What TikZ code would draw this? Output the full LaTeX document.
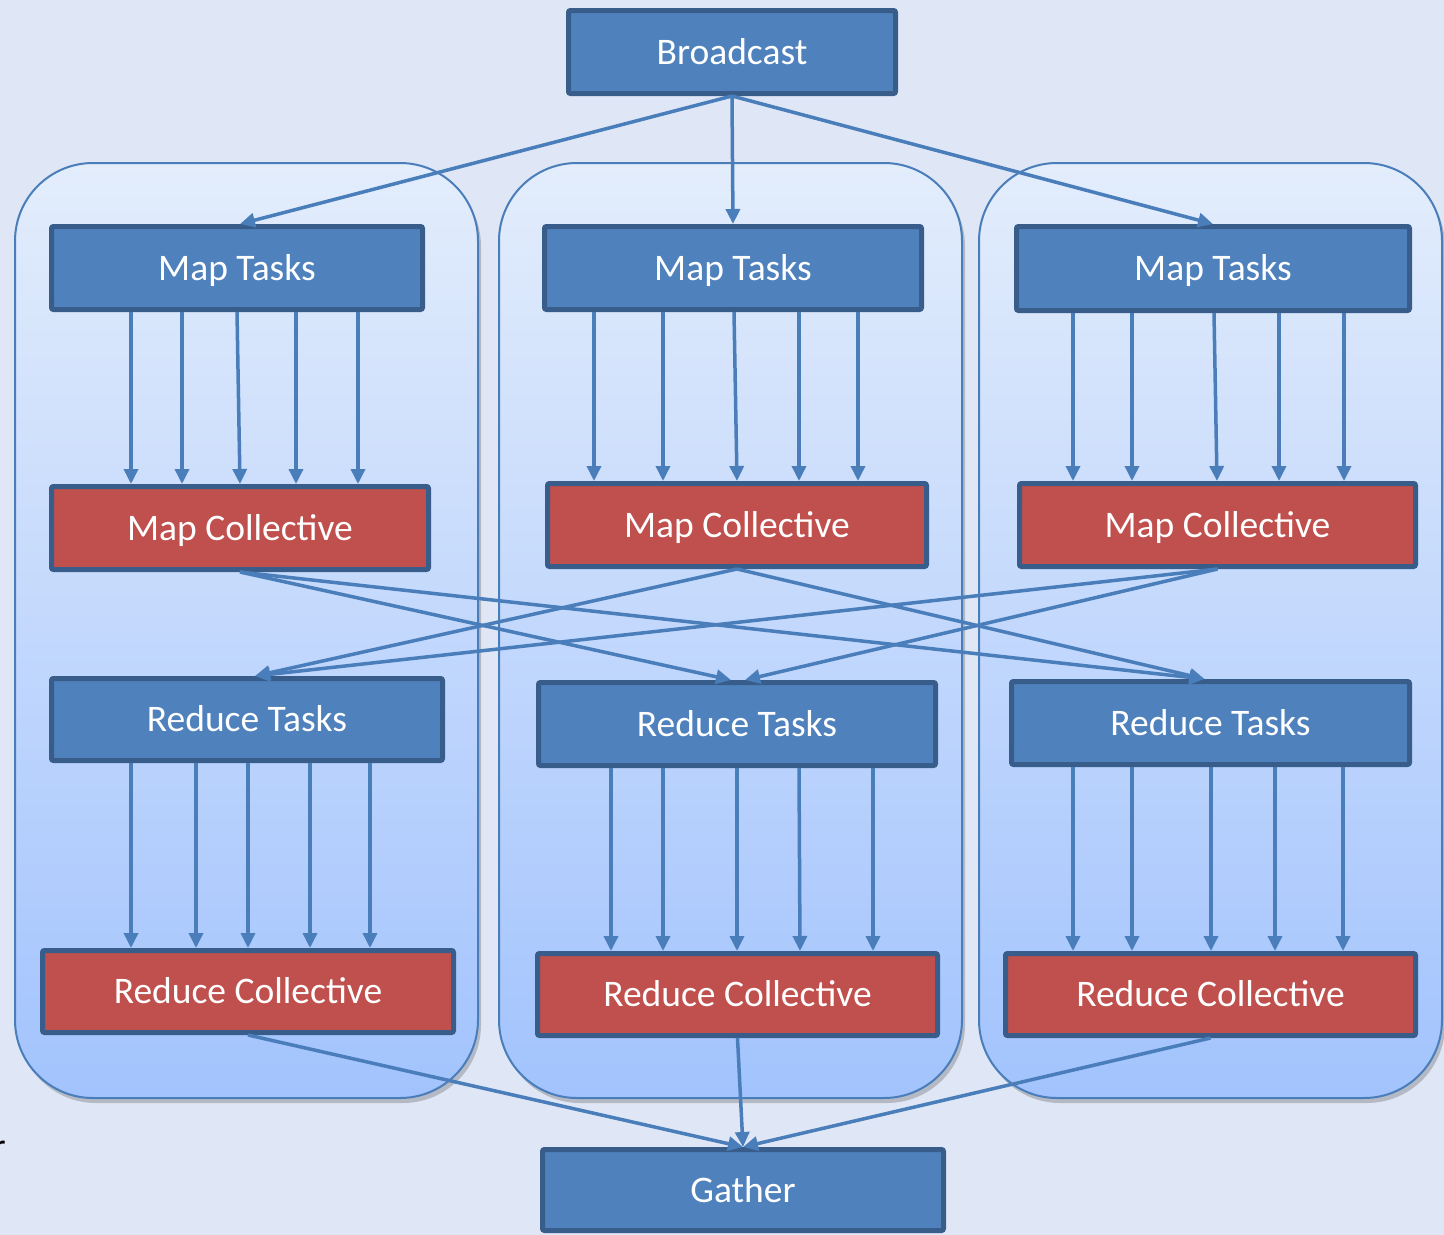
\documentclass[tikz,border=0pt]{standalone}
\usepackage{fontspec}
\setmainfont{Carlito}
\usetikzlibrary{arrows.meta,shadows,calc}

\definecolor{bgcol}{HTML}{DFE7F6}
\definecolor{boxblue}{HTML}{4F81BD}
\definecolor{boxred}{HTML}{C0504D}
\definecolor{edgeblue}{HTML}{385D8A}
\definecolor{linkblue}{HTML}{4A7EBB}
\definecolor{paneltop}{HTML}{E3EDFC}
\definecolor{panelbot}{HTML}{A2C3FD}

\tikzset{
  stage/.style={draw=edgeblue, line width=5pt, rounded corners=2pt,
    text=white, font=\fontsize{37.5}{42}\selectfont, inner sep=0pt,
    text height=25pt, text depth=1pt},
  bluebox/.style={stage, fill=boxblue},
  redbox/.style={stage, fill=boxred},
  panel/.style={draw=linkblue, line width=2pt, rounded corners=78pt,
    top color=paneltop, bottom color=panelbot,
    drop shadow={shadow xshift=3pt, shadow yshift=-5pt, opacity=0.35, fill=black!60}},
  arr/.style={draw=linkblue, line width=3.5pt,
    -{Triangle[length=15pt,width=14pt]}},
}

\begin{document}
\begin{tikzpicture}[x=1pt,y=-1pt]
  \clip (0,0) rectangle (1444,1235);
  \fill[bgcol] (0,0) rectangle (1444,1235);
  \useasboundingbox (0,0) rectangle (1444,1235);

  % three worker groups
  \path[panel] (15,163) rectangle (478,1098);
  \path[panel] (499,163) rectangle (962,1098);
  \path[panel] (979,163) rectangle (1442,1098);

  % stages
  \node[bluebox, minimum width=327pt, minimum height=83pt] (bc) at (732,52) {Broadcast};

  \node[bluebox, minimum width=371pt, minimum height=83pt] (mtL) at (237,268) {Map Tasks};
  \node[bluebox, minimum width=377pt, minimum height=83pt] (mtM) at (733,268) {Map Tasks};
  \node[bluebox, minimum width=393pt, minimum height=84pt] (mtR) at (1213,268.5) {Map Tasks};

  \node[redbox, minimum width=377pt, minimum height=83pt] (mcL) at (240,528) {Map Collective};
  \node[redbox, minimum width=379pt, minimum height=83pt] (mcM) at (737,525) {Map Collective};
  \node[redbox, minimum width=396pt, minimum height=83pt] (mcR) at (1217.5,525) {Map Collective};

  \node[bluebox, minimum width=391pt, minimum height=82pt] (rtL) at (247,719.5) {Reduce Tasks};
  \node[bluebox, minimum width=397pt, minimum height=83pt] (rtM) at (737,724) {Reduce Tasks};
  \node[bluebox, minimum width=398pt, minimum height=83pt] (rtR) at (1210.5,723) {Reduce Tasks};

  \node[redbox, minimum width=411pt, minimum height=82pt] (rcL) at (248,991.5) {Reduce Collective};
  \node[redbox, minimum width=400pt, minimum height=82pt] (rcM) at (737.5,994.5) {Reduce Collective};
  \node[redbox, minimum width=410pt, minimum height=82pt] (rcR) at (1210.5,994.5) {Reduce Collective};

  \node[bluebox, minimum width=401pt, minimum height=81pt] (ga) at (743,1190) {Gather};

  % clipped letter at the left margin
  \node[anchor=base east, inner sep=0pt, text=black,
        font=\fontsize{36}{40}\selectfont] (frag) at (6,1158) {r};

  % broadcast to map tasks
  \draw[arr] (bc.south) -- ($(mtL.north)+(3,0)$);
  \draw[arr] (bc.south) -- (mtM.north);
  \draw[arr] (bc.south) -- (mtR.north);

  % map tasks to map collective
  \foreach \a/\b in {131/131,182/182,237/240,296/296,358/358}{
    \coordinate (p) at (\a,0); \coordinate (q) at (\b,0);
    \draw[arr] (p |- mtL.south) -- (q |- mcL.north);
  }
  \foreach \a/\b in {594/594,663/663,734/737,799/799,858/858}{
    \coordinate (p) at (\a,0); \coordinate (q) at (\b,0);
    \draw[arr] (p |- mtM.south) -- (q |- mcM.north);
  }
  \foreach \a/\b in {1073/1073,1132/1132,1214/1217,1279/1279,1344/1344}{
    \coordinate (p) at (\a,0); \coordinate (q) at (\b,0);
    \draw[arr] (p |- mtR.south) -- (q |- mcR.north);
  }

  % shuffle between map collective and reduce tasks
  \draw[arr] (mcL.south) -- ($(rtM.north)+(-6,0)$);
  \draw[arr] (mcL.south) -- ($(rtR.north)+(-6,0)$);
  \draw[arr] (mcM.south) -- ($(rtL.north)+(8,0)$);
  \draw[arr] (mcM.south) -- ($(rtR.north)+(-6,0)$);
  \draw[arr] (mcR.south) -- ($(rtL.north)+(8,0)$);
  \draw[arr] (mcR.south) -- ($(rtM.north)+(8,0)$);

  % reduce tasks to reduce collective
  \foreach \a/\b in {131/131,196/196,248/248,310/310,370/370}{
    \coordinate (p) at (\a,0); \coordinate (q) at (\b,0);
    \draw[arr] (p |- rtL.south) -- (q |- rcL.north);
  }
  \foreach \a/\b in {611/611,663/663,737/737,799/800,873/873}{
    \coordinate (p) at (\a,0); \coordinate (q) at (\b,0);
    \draw[arr] (p |- rtM.south) -- (q |- rcM.north);
  }
  \foreach \a/\b in {1073/1073,1132/1132,1211/1211,1275/1275,1343/1343}{
    \coordinate (p) at (\a,0); \coordinate (q) at (\b,0);
    \draw[arr] (p |- rtR.south) -- (q |- rcR.north);
  }

  % reduce collective to gather
  \draw[arr] (rcL.south) -- (ga.north);
  \draw[arr] (rcM.south) -- (ga.north);
  \draw[arr] (rcR.south) -- (ga.north);
\end{tikzpicture}
\end{document}
